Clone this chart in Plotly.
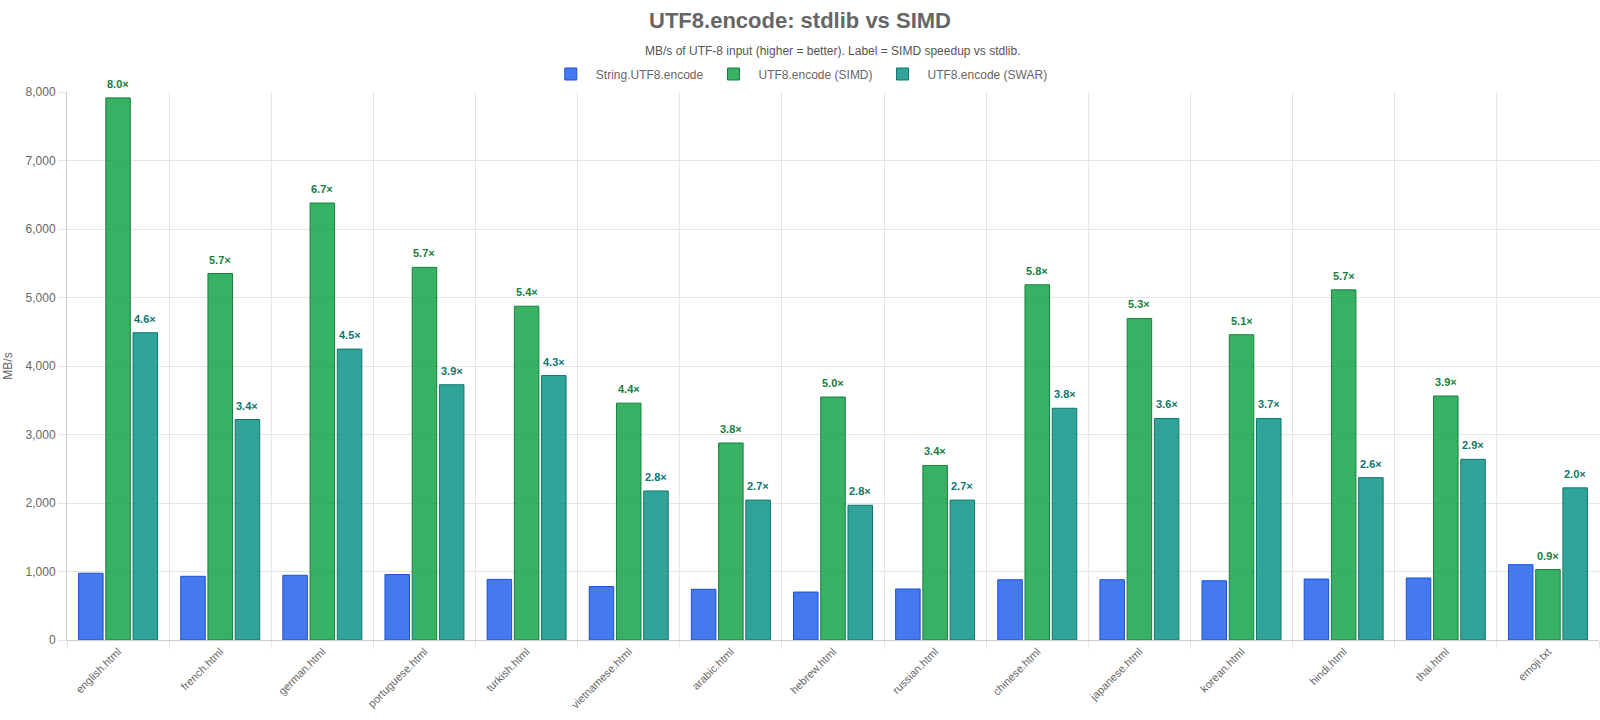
import plotly.graph_objects as go

categories = ["english.html", "french.html", "german.html", "portuguese.html", "turkish.html",
              "vietnamese.html", "arabic.html", "hebrew.html", "russian.html", "chinese.html",
              "japanese.html", "korean.html", "hindi.html", "thai.html", "emoji.txt"]
stdlib = [975, 930, 945, 955, 885, 780, 740, 700, 745, 880, 880, 865, 890, 905, 1100]
simd = [7914, 5350, 6379, 5440, 4873, 3458, 2876, 3547, 2548, 5186, 4694, 4456, 5112, 3562, 1028]
swar = [4486, 3219, 4247, 3726, 3860, 2176, 2042, 1967, 2042, 3383, 3234, 3234, 2370, 2638, 2221]
simd_labels = ["8.0×", "5.7×", "6.7×", "5.7×", "5.4×", "4.4×", "3.8×", "5.0×", "3.4×", "5.8×",
               "5.3×", "5.1×", "5.7×", "3.9×", "0.9×"]
swar_labels = ["4.6×", "3.4×", "4.5×", "3.9×", "4.3×", "2.8×", "2.7×", "2.8×", "2.7×", "3.8×",
               "3.6×", "3.7×", "2.6×", "2.9×", "2.0×"]

FONT = "Liberation Sans, Helvetica, Arial, sans-serif"
BARGAP = 0.2
GROUPGAP = 0.1
xs = list(range(len(categories)))

series = [
    ("String.UTF8.encode", stdlib, "rgba(37,99,235,0.85)", "#1d4ed8"),
    ("UTF8.encode (SIMD)", simd, "rgba(22,163,74,0.85)", "#15803d"),
    ("UTF8.encode (SWAR)", swar, "rgba(13,148,136,0.85)", "#0f766e"),
]

fig = go.Figure()
for name, vals, fill, line in series:
    fig.add_trace(go.Bar(name=name, x=xs, y=vals, marker=dict(color=fill, line=dict(color=line, width=1)),
                         hoverinfo="x+y"))

PLOT_TOP, PLOT_BOTTOM = 92, 640
PH = PLOT_BOTTOM - PLOT_TOP

def paper_y(px):
    return (PLOT_BOTTOM - px) / PH

slot = (1 - BARGAP) / 3
annotations = []
for i in xs:
    annotations.append(dict(x=i, y=simd[i], xref="x", yref="y", text="<b>%s</b>" % simd_labels[i],
                            showarrow=False, yanchor="bottom", yshift=6,
                            font=dict(family=FONT, size=11, color="#15803d")))
    annotations.append(dict(x=i + slot, y=swar[i], xref="x", yref="y", text="<b>%s</b>" % swar_labels[i],
                            showarrow=False, yanchor="bottom", yshift=6,
                            font=dict(family=FONT, size=11, color="#0f766e")))
annotations.append(dict(x=0.5, y=paper_y(51), xref="paper", yref="paper", yanchor="middle",
                        text="MB/s of UTF-8 input (higher = better). Label = SIMD speedup vs stdlib.",
                        showarrow=False, font=dict(family=FONT, size=12, color="#555555")))

fig.update_layout(
    width=1600, height=720,
    margin=dict(l=67, r=1, t=PLOT_TOP, b=720 - PLOT_BOTTOM, autoexpand=False),
    paper_bgcolor="white", plot_bgcolor="white",
    barmode="group", bargap=BARGAP, bargroupgap=GROUPGAP,
    font=dict(family=FONT, size=12, color="#666666"),
    title=dict(text="<b>UTF8.encode: stdlib vs SIMD</b>", x=0.5, xanchor="center",
               y=1 - 20 / 720, yanchor="middle", font=dict(family=FONT, size=22, color="#666666")),
    legend=dict(orientation="h", x=0.478, xanchor="center", y=paper_y(74), yanchor="middle",
                font=dict(family=FONT, size=12, color="#666666"), itemwidth=40),
    annotations=annotations,
    showlegend=True,
)
fig.update_xaxes(
    range=[-0.5, len(categories) - 0.5], tickmode="array", tickvals=xs, ticktext=categories,
    tickangle=-45, tickfont=dict(size=11, color="#666666"), showgrid=False, ticks="",
    showline=True, linecolor="#cccccc", linewidth=1, zeroline=False,
    minor=dict(tick0=0.5, dtick=1, showgrid=True, gridcolor="#e5e5e5", gridwidth=1,
               ticks="outside", ticklen=8, tickcolor="#e5e5e5"),
)
fig.update_yaxes(
    range=[0, 8000], dtick=1000, tickformat=",", showgrid=True, gridcolor="#e5e5e5",
    ticks="outside", ticklen=8, tickcolor="#e5e5e5", zeroline=False,
    showline=True, linecolor="#cccccc", linewidth=1,
    title=dict(text="MB/s", font=dict(size=12, color="#666666"), standoff=10),
    tickfont=dict(size=12, color="#666666"),
)

fig.write_html("out.html")
